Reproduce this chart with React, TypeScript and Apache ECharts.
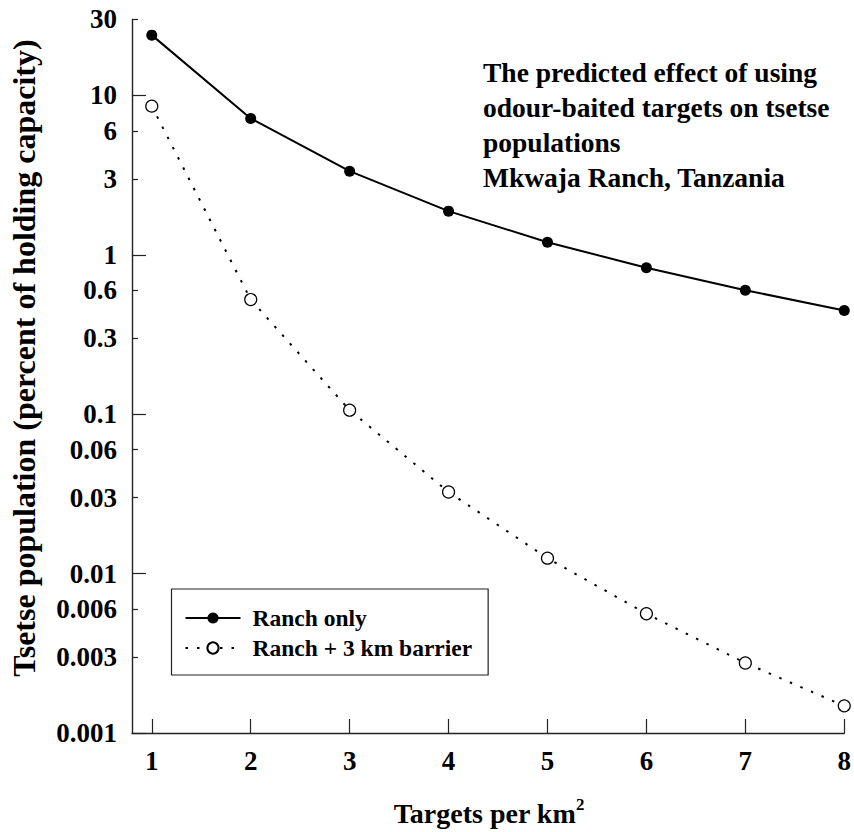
import React, { useEffect, useRef } from "react";
import * as echarts from "echarts";

const xValues = [1, 2, 3, 4, 5, 6, 7, 8];
const ranchOnly = [23.9, 7.17, 3.35, 1.88, 1.2, 0.83, 0.6, 0.447];
const ranchBarrier = [8.57, 0.524, 0.106, 0.0325, 0.0125, 0.0056, 0.00275, 0.00148];
const yMajorTicks = [0.001, 0.01, 0.1, 1, 10];
const yMinorTicks = [0.003, 0.006, 0.03, 0.06, 0.3, 0.6, 3, 6, 30];
const xTicks = [1, 2, 3, 4, 5, 6, 7, 8];
const seriesNames = ["Ranch only", "Ranch + 3 km barrier"];
const titleLines = [
  "The predicted effect of using",
  "odour-baited targets on tsetse",
  "populations",
  "Mkwaja Ranch, Tanzania",
];
const yTitle = "Tsetse population (percent of holding capacity)";

const FONT = "'Liberation Serif', 'Times New Roman', Times, serif";

function fmtLog(ticks: number[]) {
  return (v: number) => {
    let best = ticks[0];
    let bd = Infinity;
    for (const t of ticks) {
      const d = Math.abs(Math.log10(t) - v);
      if (d < bd) {
        bd = d;
        best = t;
      }
    }
    return String(best);
  };
}

export default function App() {
  const ref = useRef<HTMLDivElement>(null);
  useEffect(() => {
    if (!ref.current) return;
    const chart = echarts.init(ref.current, undefined, { renderer: "svg" });
    const yMin = Math.log10(0.001);
    const yMax = Math.log10(30);
    const axisLine = { show: true, onZero: false, lineStyle: { color: "#222", width: 1.4 } };
    const labelStyle = {
      fontFamily: FONT,
      fontWeight: "bold" as const,
      fontSize: 27,
      color: "#000",
    };
    const makeY = (ticks: number[], len: number, showLine: boolean) => ({
      type: "value",
      position: "left",
      min: yMin,
      max: yMax,
      axisLine: { ...axisLine, show: showLine },
      splitLine: { show: false },
      axisTick: {
        show: true,
        inside: true,
        length: len,
        customValues: ticks.map((t) => Math.log10(t)),
        lineStyle: { color: "#222", width: 1.2 },
      },
      axisLabel: {
        ...labelStyle,
        margin: 15,
        customValues: ticks.map((t) => Math.log10(t)),
        formatter: fmtLog(ticks),
      },
    });
    chart.setOption({
      animation: false,
      backgroundColor: "#fff",
      grid: { left: 132, right: 8, top: 19.4, bottom: 99, containLabel: false },
      title: {
        text: titleLines.join("\n"),
        left: 483,
        top: 55,
        padding: 0,
        textStyle: {
          fontFamily: FONT,
          fontWeight: "bold",
          fontSize: 27.5,
          lineHeight: 35,
          color: "#000",
        },
      },
      legend: {
        orient: "vertical",
        left: 171.5,
        top: 589,
        padding: [14, 16, 12, 13],
        itemGap: 0,
        itemWidth: 55,
        itemHeight: 14,
        borderColor: "#222",
        borderWidth: 1.2,
        backgroundColor: "#fff",
        data: seriesNames,
        textStyle: {
          fontFamily: FONT,
          fontWeight: "bold",
          fontSize: 23.5,
          lineHeight: 30,
          color: "#000",
          padding: [0, 0, 0, 7],
        },
      },
      xAxis: {
        type: "value",
        min: 0.8,
        max: 8,
        axisLine,
        splitLine: { show: false },
        axisTick: {
          show: true,
          inside: true,
          length: 14,
          customValues: xTicks,
          lineStyle: { color: "#222", width: 1.2 },
        },
        axisLabel: {
          ...labelStyle,
          margin: 14,
          customValues: xTicks,
        },
      },
      yAxis: [makeY(yMajorTicks, 14, true), makeY(yMinorTicks, 6, false)],
      graphic: [
        {
          type: "text",
          x: 24,
          y: 358,
          rotation: Math.PI / 2,
          style: {
            text: yTitle,
            fontFamily: FONT,
            fontWeight: "bold",
            fontSize: 32,
            fill: "#000",
            align: "center",
            verticalAlign: "middle",
            textAlign: "center",
            textVerticalAlign: "middle",
          },
        },
        {
          type: "text",
          x: 489,
          y: 813,
          style: {
            text: "{a|Targets per km}{s|2}",
            align: "center",
            verticalAlign: "middle",
            textAlign: "center",
            textVerticalAlign: "middle",
            fill: "#000",
            rich: {
              a: {
                fontFamily: FONT,
                fontWeight: "bold",
                fontSize: 28,
                lineHeight: 34,
                fill: "#000",
              },
              s: {
                fontFamily: FONT,
                fontWeight: "bold",
                fontSize: 17,
                lineHeight: 14,
                verticalAlign: "top",
                fill: "#000",
              },
            },
          },
        },
      ],
      series: [
        {
          name: seriesNames[0],
          type: "line",
          data: xValues.map((x, i) => [x, Math.log10(ranchOnly[i])]),
          symbol: "circle",
          symbolSize: 11,
          lineStyle: { color: "#000", width: 2 },
          itemStyle: { color: "#000", borderColor: "#000", borderWidth: 0 },
          z: 3,
        },
        {
          name: seriesNames[1],
          type: "line",
          data: xValues.map((x, i) => [x, Math.log10(ranchBarrier[i])]),
          symbol: "circle",
          symbolSize: 12,
          showAllSymbol: true,
          lineStyle: { color: "#000", width: 2, type: [2.5, 9] },
          itemStyle: { color: "#fff", borderColor: "#000", borderWidth: 1.2 },
          z: 4,
        },
      ],
    });
    return () => chart.dispose();
  }, []);
  return (
    <div
      ref={ref}
      style={{ position: "absolute", left: 0, top: 0, width: 854, height: 832 }}
    />
  );
}
